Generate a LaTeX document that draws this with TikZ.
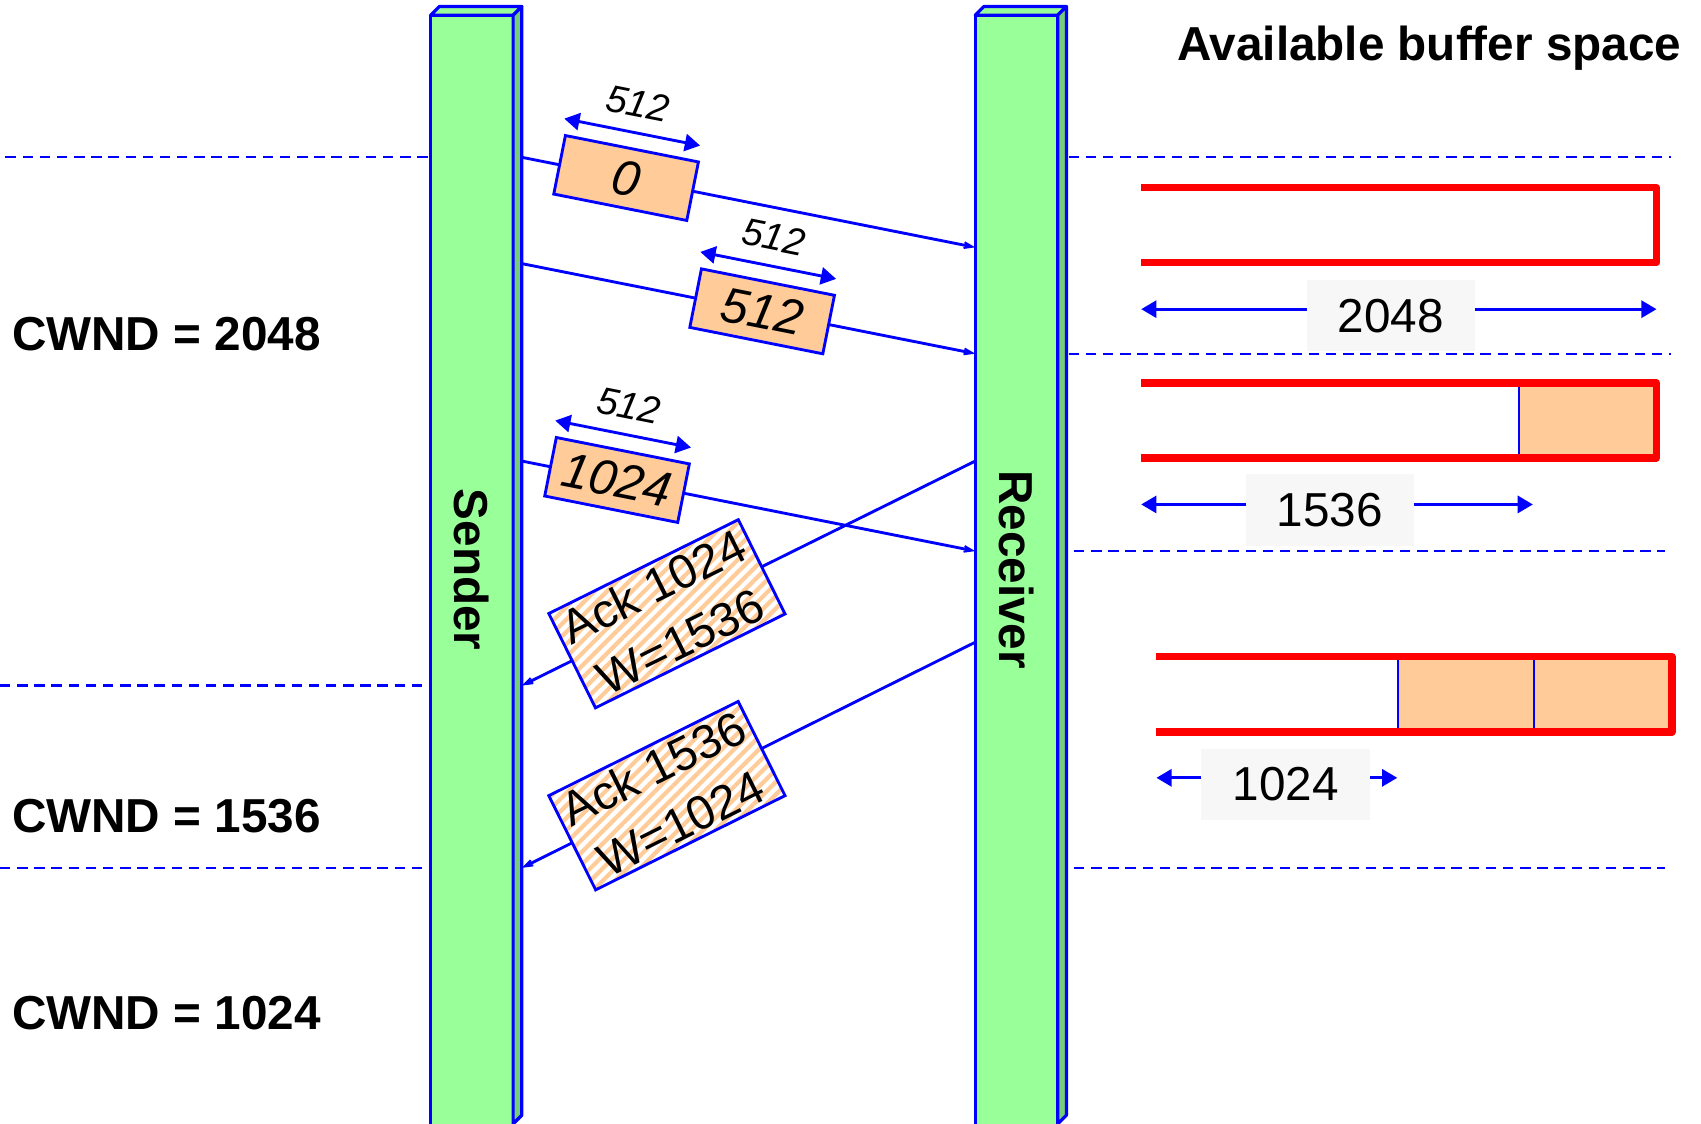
\documentclass[tikz,border=0pt]{standalone}
\usepackage{fontspec}
\setmainfont{Liberation Sans}
\setsansfont{Liberation Sans}
\usetikzlibrary{arrows.meta,patterns.meta}

\definecolor{verde}{HTML}{99FF99}
\definecolor{verdescuro}{HTML}{77CC77}
\definecolor{arancio}{HTML}{FFCC99}
\definecolor{grigio}{HTML}{F7F7F7}

\begin{document}
\begin{tikzpicture}[font=\sffamily, x=0.2mm, y=-0.2mm,
    barra/.style={draw=blue, line width=1.7pt, line join=round},
    tratteggio/.style={blue, line width=1.2pt, dash pattern=on 5.5pt off 3.5pt},
    pacchetto/.style={blue, line width=1.5pt, -{Stealth[length=13pt,width=9pt,inset=9pt]}},
    segmento/.style={draw=blue, fill=arancio, text=black, line width=1.5pt, minimum width=2.5cm, minimum height=1.1cm, font=\sffamily\fontsize{26}{30}\selectfont\itshape},
    ack/.style={draw=blue, text=black, line width=1.5pt, preaction={fill=white}, pattern={Lines[angle=45,distance=4.6pt,line width=2.2pt]}, pattern color=arancio, minimum width=3.9cm, minimum height=1.94cm, align=center, inner sep=1pt, font=\sffamily\fontsize{25}{32}\selectfont},
    quota/.style={blue, line width=1.5pt, {Triangle[length=8pt,width=9pt]}-{Triangle[length=8pt,width=9pt]}},
    misura/.style={above=4pt, sloped, text=black, font=\sffamily\fontsize{20}{24}\selectfont\itshape},
    buffer/.style={red, line width=4pt, line join=round},
    etichetta/.style={fill=grigio, text=black, minimum width=3.1cm, minimum height=1.32cm, font=\sffamily\fontsize{25}{30}\selectfont},
    titolo/.style={font=\sffamily\fontsize{25}{30}\selectfont\bfseries}]

        % Area visibile (1568 x 1036)
        \clip (0,0) rectangle (1568,1036);

        % Linee tratteggiate orizzontali
        \draw[tratteggio] (5,145) -- (395,145);
        \draw[tratteggio] (985,145) -- (1540,145);
        \draw[tratteggio] (985,326) -- (1540,326);
        \draw[tratteggio] (990,508) -- (1535,508);
        \draw[tratteggio] (0,632) -- (395,632);
        \draw[tratteggio] (0,800) -- (395,800);
        \draw[tratteggio] (990,800) -- (1535,800);

        % Colonne di mittente e destinatario (prisma)
        \foreach \x in {397,899} {
            \filldraw[barra, fill=verde] (\x,14) rectangle (\x+76,1050);
            \filldraw[barra, fill=verde] (\x,14) -- (\x+8,6) -- (\x+84,6) -- (\x+76,14) -- cycle;
            \filldraw[barra, fill=verdescuro] (\x+76,14) -- (\x+84,6) -- (\x+84,1028) -- (\x+76,1036) -- cycle;
        }
        \node[titolo, rotate=-90] (sender) at (435,525) {Sender};
        \node[titolo, rotate=-90] (receiver) at (937,525) {Receiver};

        % Punti di partenza e arrivo sulle colonne
        \coordinate (s1) at (481,145);  \coordinate (r1) at (899,228);
        \coordinate (s2) at (481,243);  \coordinate (r2) at (899,326);
        \coordinate (s3) at (481,425);  \coordinate (r3) at (899,508);
        \coordinate (r4) at (899,425);  \coordinate (s4) at (481,632);
        \coordinate (r5) at (899,592);  \coordinate (s5) at (481,800);

        % Segmenti inviati
        \draw[pacchetto] (s1) -- node[segmento, pos=0.23, sloped] (p0) {0} (r1);
        \draw[pacchetto] (s2) -- node[segmento, pos=0.53, sloped] (p512) {512} (r2);
        \draw[pacchetto] (s3) -- node[segmento, pos=0.21, sloped] (p1024) {1024} (r3);

        % Lunghezza dei segmenti
        \draw[quota] ([yshift=8pt]p0.north west) -- node[misura] (m0) {512} ([yshift=8pt]p0.north east);
        \draw[quota] ([yshift=8pt]p512.north west) -- node[misura] (m512) {512} ([yshift=8pt]p512.north east);
        \draw[quota] ([yshift=8pt]p1024.north west) -- node[misura] (m1024) {512} ([yshift=8pt]p1024.north east);

        % Riscontri
        \draw[pacchetto] (r4) -- node[ack, pos=0.68, sloped] (a1024) {Ack 1024\\W=1536} (s4);
        \draw[pacchetto] (r5) -- node[ack, pos=0.68, sloped] (a1536) {Ack 1536\\W=1024} (s5);

        % Finestra di congestione
        \node[titolo, anchor=west] (cwnd2048) at (5,308) {CWND = 2048};
        \node[titolo, anchor=west] (cwnd1536) at (5,752) {CWND = 1536};
        \node[titolo, anchor=west] (cwnd1024) at (5,934) {CWND = 1024};

        % Spazio libero nel buffer
        \node[titolo, anchor=east] (titolo) at (1556,44) {Available buffer space};

        % Buffer vuoto
        \draw[buffer] (1052,173) -| (1527,242) -- (1052,242);
        \coordinate (q1a) at (1052,285);  \coordinate (q1b) at (1527,285);
        \draw[quota] (q1a) -- (q1b);
        \node[etichetta] (l2048) at (1282,291) {2048};

        % Buffer con un segmento
        \fill[arancio] (1400,353) rectangle (1527,422);
        \draw[blue, line width=1.2pt] (1400,353) -- (1400,422);
        \draw[buffer] (1052,353) -| (1527,422) -- (1052,422);
        \coordinate (q2a) at (1052,465);  \coordinate (q2b) at (1413,465);
        \draw[quota] (q2a) -- (q2b);
        \node[etichetta] (l1536) at (1226,470) {1536};

        % Buffer con due segmenti
        \fill[arancio] (1289,605) rectangle (1541,675);
        \draw[blue, line width=1.2pt] (1289,605) -- (1289,675);
        \draw[blue, line width=1.2pt] (1414,605) -- (1414,675);
        \draw[buffer] (1066,605) -| (1541,675) -- (1066,675);
        \coordinate (q3a) at (1066,717);  \coordinate (q3b) at (1288,717);
        \draw[quota] (q3a) -- (q3b);
        \node[etichetta] (l1024) at (1185,723) {1024};

    \end{tikzpicture}
\end{document}
